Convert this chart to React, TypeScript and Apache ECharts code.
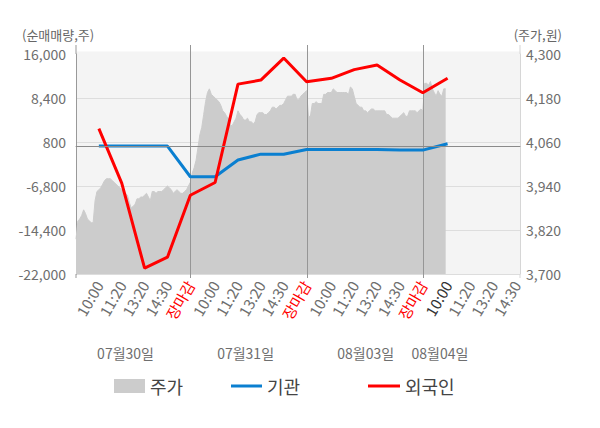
import React, { useEffect, useRef } from 'react';
import * as echarts from 'echarts';

// ---- data ----
const dayDates = ['07월30일', '07월31일', '08월03일', '08월04일'];
const timeLabels = ['10:00', '11:20', '13:20', '14:30', '장마감'];
const labelSlots = [12, 24, 36, 48, 60]; // slot of each time label inside a trading day
const slotsPerDay = [61, 61, 61, 51];
const dateLabelIndex = [26, 89, 152, 191];

// 외국인 / 기관 net volume (shares) at each labelled time
const foreignNet = [3100, -6300, -21000, -19100, -8400, -6200, 10800, 11500, 15300, 11200, 11800, 13300, 14100, 11500, 9300, 11800];
const instNet = [100, 100, 100, 100, -5200, -5200, -2300, -1300, -1300, -500, -500, -500, -500, -600, -600, 500];

// 주가 (won)
const priceDay1 = [
  3795, 3845, 3850, 3860, 3875, 3865, 3850, 3845, 3840, 3840,
  3900, 3925, 3930, 3935, 3945, 3955, 3960, 3960, 3960, 3955,
  3950, 3945, 3940, 3935, 3930, 3925, 3920, 3915, 3895, 3880,
  3885, 3890, 3905, 3905, 3910, 3910, 3915, 3920, 3910, 3900,
  3925, 3925, 3920, 3925, 3925, 3925, 3930, 3935, 3940, 3935,
  3930, 3920, 3925, 3930, 3925, 3920, 3920, 3925, 3930, 3940,
  3950,
];
const priceDay2 = [
  3975, 3990, 4010, 4045, 4080, 4100, 4135, 4170, 4195, 4205,
  4190, 4185, 4180, 4175, 4170, 4160, 4145, 4140, 4130, 4125,
  4105, 4105, 4115, 4125, 4145, 4135, 4130, 4120, 4120, 4125,
  4115, 4115, 4110, 4115, 4135, 4140, 4140, 4140, 4135, 4135,
  4140, 4145, 4155, 4155, 4150, 4155, 4160, 4160, 4165, 4175,
  4185, 4185, 4185, 4190, 4190, 4175, 4175, 4185, 4190, 4195,
  4200,
];
const priceDay3 = [
  4130, 4130, 4165, 4165, 4170, 4165, 4165, 4165, 4190, 4190,
  4195, 4195, 4195, 4205, 4200, 4195, 4195, 4195, 4195, 4195,
  4195, 4190, 4210, 4205, 4185, 4165, 4160, 4155, 4155, 4145,
  4145, 4140, 4145, 4150, 4150, 4145, 4145, 4145, 4145, 4145,
  4145, 4135, 4135, 4130, 4125, 4125, 4125, 4125, 4130, 4135,
  4140, 4130, 4130, 4145, 4145, 4145, 4145, 4140, 4145, 4150,
  4145,
];
const priceDay4 = [4220, 4220, 4215, 4225, 4205, 4195, 4185, 4200, 4190, 4185, 4205, 4205];

const leftMin = -22000, leftMax = 16000, leftStep = 7600;
const rightMin = 3700, rightMax = 4300, rightStep = 120;

// ---- derived tables ----
const categories: string[] = [];
const dateCategories: string[] = [];
const labelIndex: number[] = [];
const closeIndex: number[] = [];
slotsPerDay.forEach((n) => {
  const start = categories.length;
  for (let k = 0; k < n; k++) {
    const j = labelSlots.indexOf(k);
    categories.push(j >= 0 ? timeLabels[j] : '');
    dateCategories.push('');
    if (j >= 0) labelIndex.push(start + k);
    if (j === labelSlots.length - 1) closeIndex.push(start + k);
  }
});
dateLabelIndex.forEach((idx, d) => { dateCategories[idx] = dayDates[d]; });

const price = [...priceDay1, ...priceDay2, ...priceDay3, ...priceDay4];
const foreignSeries: (number | null)[] = categories.map(() => null);
const instSeries: (number | null)[] = categories.map(() => null);
foreignNet.forEach((v, i) => { foreignSeries[labelIndex[i]] = v; });
instNet.forEach((v, i) => { instSeries[labelIndex[i]] = v; });
const currentIndex = labelIndex[foreignNet.length - 1];

const FONT = '"Noto Sans CJK KR", "Noto Sans", sans-serif';
const LABEL = '#6e6e6e';
const fmt = (v: number) => Math.round(v).toLocaleString('en-US');

export default function App() {
  const ref = useRef<HTMLDivElement>(null);
  useEffect(() => {
    if (!ref.current) return;
    const chart = echarts.init(ref.current, undefined, { renderer: 'svg' });
    const legendText = { fontSize: 18, color: '#444', fontFamily: FONT };
    chart.setOption({
      animation: false,
      textStyle: { fontFamily: FONT },
      grid: { left: 76, right: 80, top: 54, bottom: 154, show: true, backgroundColor: '#f4f4f4', borderWidth: 0 },
      legend: [
        { data: [{ name: '주가', icon: 'rect', itemStyle: { color: '#cccccc', borderWidth: 0 } }], left: 114, top: 377, padding: 0, itemWidth: 31, itemHeight: 14, textStyle: legendText, selectedMode: false },
        { data: [{ name: '기관', icon: 'rect', itemStyle: { color: '#0a7fd0', borderWidth: 0 } }], left: 231, top: 377, padding: 0, itemWidth: 31, itemHeight: 3, textStyle: legendText, selectedMode: false },
        { data: [{ name: '외국인', icon: 'rect', itemStyle: { color: '#ff0000', borderWidth: 0 } }], left: 368, top: 377, padding: 0, itemWidth: 32, itemHeight: 3, textStyle: legendText, selectedMode: false },
      ],
      xAxis: [
        {
          type: 'category', data: categories, boundaryGap: false,
          axisLine: { show: true, lineStyle: { color: '#999' } },
          axisTick: { show: false },
          splitLine: { show: false },
          axisLabel: {
            interval: (_i: number, v: string) => v !== '',
            rotate: 60, fontSize: 15, color: LABEL, margin: 8, fontFamily: FONT,
            formatter: (v: string, idx: number) => {
              if (v === timeLabels[timeLabels.length - 1]) return `{c|${v}}`;
              if (idx === currentIndex) return `{n|${v}}`;
              return v;
            },
            rich: {
              c: { color: '#ff0000', fontSize: 15, fontFamily: FONT },
              n: { color: '#333333', fontSize: 15, fontFamily: FONT },
            },
          },
        },
        {
          type: 'category', data: dateCategories, boundaryGap: false, position: 'bottom',
          axisLine: { show: false }, axisTick: { show: false }, splitLine: { show: false },
          axisLabel: { interval: (_i: number, v: string) => v !== '', fontSize: 14, color: LABEL, margin: 72, fontFamily: FONT },
        },
      ],
      yAxis: [
        {
          type: 'value', position: 'left', min: leftMin, max: leftMax, interval: leftStep,
          axisLine: { show: true, lineStyle: { color: '#999' } },
          axisTick: { show: false },
          axisLabel: { formatter: fmt, fontSize: 14, color: LABEL, margin: 10, fontFamily: FONT },
          splitLine: { show: true, showMaxLine: false, lineStyle: { color: '#dddddd', width: 1 } },
        },
        {
          type: 'value', position: 'right', min: rightMin, max: rightMax, interval: rightStep,
          axisLine: { show: true, lineStyle: { color: '#d6d6d6' } },
          axisTick: { show: false },
          axisLabel: { formatter: fmt, fontSize: 14, color: LABEL, margin: 6, fontFamily: FONT },
          splitLine: { show: false },
        },
      ],
      series: [
        {
          name: '주가', type: 'line', yAxisIndex: 1, data: price, symbol: 'none', z: 1,
          lineStyle: { width: 1, color: '#cccccc' }, itemStyle: { color: '#cccccc' },
          areaStyle: { color: '#cccccc', opacity: 1, origin: 'start' },
        },
        {
          name: '_zero', type: 'line', yAxisIndex: 0, data: [], symbol: 'none', z: 2,
          markLine: {
            silent: true, symbol: ['none', 'none'], label: { show: false },
            lineStyle: { color: '#8a8a8a', width: 1, type: 'solid' },
            data: [{ yAxis: 0 }],
          },
        },
        {
          name: '기관', type: 'line', yAxisIndex: 0, data: instSeries, connectNulls: true, symbol: 'none', z: 3,
          lineStyle: { width: 3, color: '#0a7fd0' }, itemStyle: { color: '#0a7fd0' },
        },
        {
          name: '외국인', type: 'line', yAxisIndex: 0, data: foreignSeries, connectNulls: true, symbol: 'none', z: 4,
          lineStyle: { width: 3, color: '#ff0000' }, itemStyle: { color: '#ff0000' },
        },
      ],
    });

    const px = (i: number) => Math.round(chart.convertToPixel({ xAxisIndex: 0 }, i) as number) + 0.5;
    const yTop = chart.convertToPixel({ yAxisIndex: 0 }, leftMax) as number;
    const yBot = chart.convertToPixel({ yAxisIndex: 0 }, leftMin) as number;
    const xL = px(0);
    const xR = px(categories.length - 1);
    const vline = (x: number, color: string, y1: number, y2: number) => ({
      type: 'line', z: 2, silent: true,
      shape: { x1: x, y1, x2: x, y2 },
      style: { stroke: color, lineWidth: 1 },
    });
    chart.setOption({
      graphic: [
        { type: 'rect', z: -1, silent: true, shape: { x: xL, y: yTop - 2.5, width: xR - xL, height: 2.5 }, style: { fill: '#f4f4f4' } },
        ...closeIndex.slice(0, 3).map((i) => vline(px(i), '#969696', yTop - 9, yBot + 4)),
        vline(xL - 0.5, '#999', yTop - 9, yTop),
        vline(xL - 0.5, '#999', yBot, yBot + 4),
        vline(xR - 0.5, '#d6d6d6', yTop - 9, yTop),
        vline(xR - 0.5, '#d6d6d6', yBot, yBot + 4),
        { type: 'text', z: 10, x: 22, y: 34, style: { text: '(순매매량,주)', fontSize: 13, fontFamily: FONT, fill: '#666', align: 'left', verticalAlign: 'middle' } },
        { type: 'text', z: 10, x: 562, y: 34, style: { text: '(주가,원)', fontSize: 13, fontFamily: FONT, fill: '#666', align: 'right', verticalAlign: 'middle' } },
      ],
    });
    return () => chart.dispose();
  }, []);
  return <div ref={ref} style={{ position: 'absolute', left: 0, top: 0, width: 600, height: 428 }} />;
}
